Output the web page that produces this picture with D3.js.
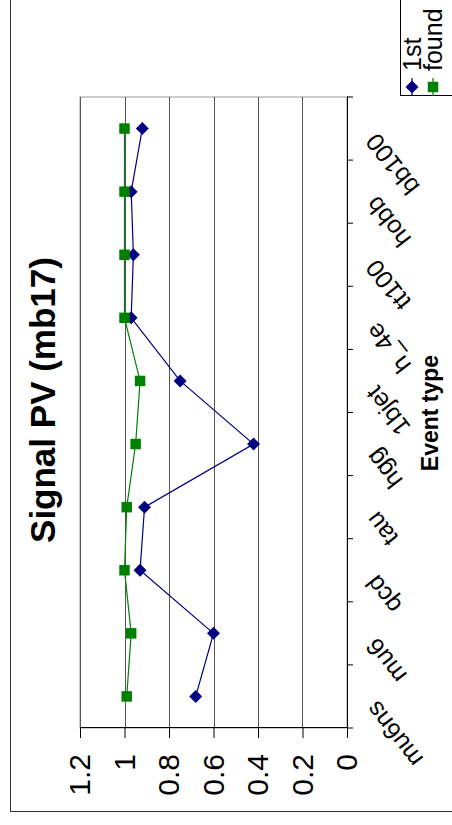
<!DOCTYPE html>
<html>
<head>
<meta charset="utf-8">
<script src="https://cdn.jsdelivr.net/npm/d3@7"></script>
<style>
  body { margin: 0; background: #fff; }
  svg { display: block; font-family: "Liberation Sans", Arial, sans-serif; }
</style>
</head>
<body>
<div id="chart"></div>
<script>
// chart data
const categories = ["mu6ns", "mu6", "qcd", "tau", "hgg", "1bjet", "h_4e", "tt100", "hobb", "bb100"];
const first = [0.68, 0.60, 0.93, 0.91, 0.42, 0.75, 0.97, 0.96, 0.97, 0.92];
const found = [0.99, 0.97, 1.0, 0.99, 0.95, 0.93, 1.0, 1.0, 1.0, 1.0];
const yTicks = [0, 0.2, 0.4, 0.6, 0.8, 1, 1.2];
const series = [
  { name: "1st", values: first, color: "#000080", shape: "diamond" },
  { name: "found", values: found, color: "#008000", shape: "square" },
];

// page is 452 x 825, the chart itself is drawn lying on its side
const pageW = 452, pageH = 825;
const W = pageH, H = pageW; // unrotated frame
const plot = { left: 97, right: 728, top: 80, bottom: 347 };

const svg = d3.select("#chart").append("svg")
  .attr("width", pageW).attr("height", pageH);
svg.append("rect").attr("width", pageW).attr("height", pageH).attr("fill", "#fff");

const g = svg.append("g").attr("transform", `translate(0,${pageH}) rotate(-90)`);

// outer chart border
g.append("rect")
  .attr("x", 13.5).attr("y", 10.5)
  .attr("width", W).attr("height", H)
  .attr("fill", "none").attr("stroke", "#333");

const x = d3.scaleBand().domain(categories).range([plot.left, plot.right]).padding(0);
const y = d3.scaleLinear().domain([0, 1.2]).range([plot.bottom, plot.top]);
const cx = (c) => x(c) + x.bandwidth() / 2;

// plot area border
g.append("rect")
  .attr("x", plot.left).attr("y", plot.top)
  .attr("width", plot.right - plot.left).attr("height", plot.bottom - plot.top)
  .attr("fill", "#fff").attr("stroke", "#999");

// gridlines
g.append("g").selectAll("line")
  .data(yTicks.filter((d) => d > 0))
  .join("line")
  .attr("x1", plot.left).attr("x2", plot.right)
  .attr("y1", (d) => Math.round(y(d)) + 0.5).attr("y2", (d) => Math.round(y(d)) + 0.5)
  .attr("stroke", "#555");

// value axis
const yAxis = g.append("g")
  .attr("transform", `translate(${plot.left},0)`)
  .call(d3.axisLeft(y).tickValues(yTicks).tickSize(10).tickFormat(d3.format("")));
yAxis.select(".domain").attr("stroke", "#000");
yAxis.selectAll(".tick line").attr("stroke", "#000");
yAxis.selectAll(".tick text")
  .attr("x", -26)
  .attr("font-size", 30)
  .attr("fill", "#000")
  .attr("font-family", "Liberation Sans, Arial, sans-serif");

// category axis
const xAxis = g.append("g")
  .attr("transform", `translate(0,${plot.bottom})`)
  .call(d3.axisBottom(x).tickSize(0).tickFormat(""));
xAxis.select(".domain").attr("stroke", "#000");
xAxis.selectAll(".tick").remove();
xAxis.selectAll(".cat-tick")
  .data(d3.range(categories.length + 1))
  .join("line")
  .attr("class", "cat-tick")
  .attr("x1", (i) => plot.left + i * x.bandwidth())
  .attr("x2", (i) => plot.left + i * x.bandwidth())
  .attr("y1", 0).attr("y2", 6)
  .attr("stroke", "#000");

g.append("g").selectAll("text")
  .data(categories)
  .join("text")
  .attr("transform", (d) => `translate(${cx(d) - 3},${plot.bottom + 31}) rotate(-38)`)
  .attr("text-anchor", "end")
  .attr("font-size", 25)
  .attr("fill", "#000")
  .text((d) => d);

// titles
g.append("text")
  .attr("x", 425).attr("y", 55)
  .attr("text-anchor", "middle")
  .attr("font-size", 35).attr("font-weight", "bold")
  .text("Signal PV (mb17)");

g.append("text")
  .attr("x", 412).attr("y", 438)
  .attr("text-anchor", "middle")
  .attr("font-size", 23).attr("font-weight", "bold")
  .text("Event type");

// lines and markers
const line = d3.line().x((d) => cx(d.c)).y((d) => y(d.v));
const marker = (shape) => shape === "diamond"
  ? d3.symbol().type(d3.symbolSquare).size(84)()
  : d3.symbol().type(d3.symbolSquare).size(110)();

series.forEach((s) => {
  const pts = categories.map((c, i) => ({ c, v: s.values[i] }));
  g.append("path")
    .datum(pts)
    .attr("d", line)
    .attr("fill", "none")
    .attr("stroke", s.color)
    .attr("stroke-width", 1.2);
  g.append("g").selectAll("path")
    .data(pts)
    .join("path")
    .attr("d", marker(s.shape))
    .attr("transform", (d) => `translate(${cx(d.c)},${y(d.v)})` + (s.shape === "diamond" ? " rotate(45)" : ""))
    .attr("fill", s.color);
});

// legend
const legend = g.append("g");
legend.append("rect")
  .attr("x", 729.5).attr("y", 400.5)
  .attr("width", 120).attr("height", 80)
  .attr("fill", "#fff").attr("stroke", "#000");
const item = legend.selectAll(".item")
  .data(series)
  .join("g")
  .attr("class", "item")
  .attr("transform", (d, i) => `translate(738,${412 + i * 21})`);
item.append("line")
  .attr("x1", -9).attr("x2", 9)
  .attr("stroke", (d) => d.color).attr("stroke-width", 1.2);
item.append("path")
  .attr("d", (d) => marker(d.shape))
  .attr("transform", (d) => d.shape === "diamond" ? "rotate(45)" : null)
  .attr("fill", (d) => d.color);
item.append("text")
  .attr("x", 16).attr("dy", "0.35em")
  .attr("font-size", 25)
  .text((d) => d.name);
</script>
</body>
</html>
